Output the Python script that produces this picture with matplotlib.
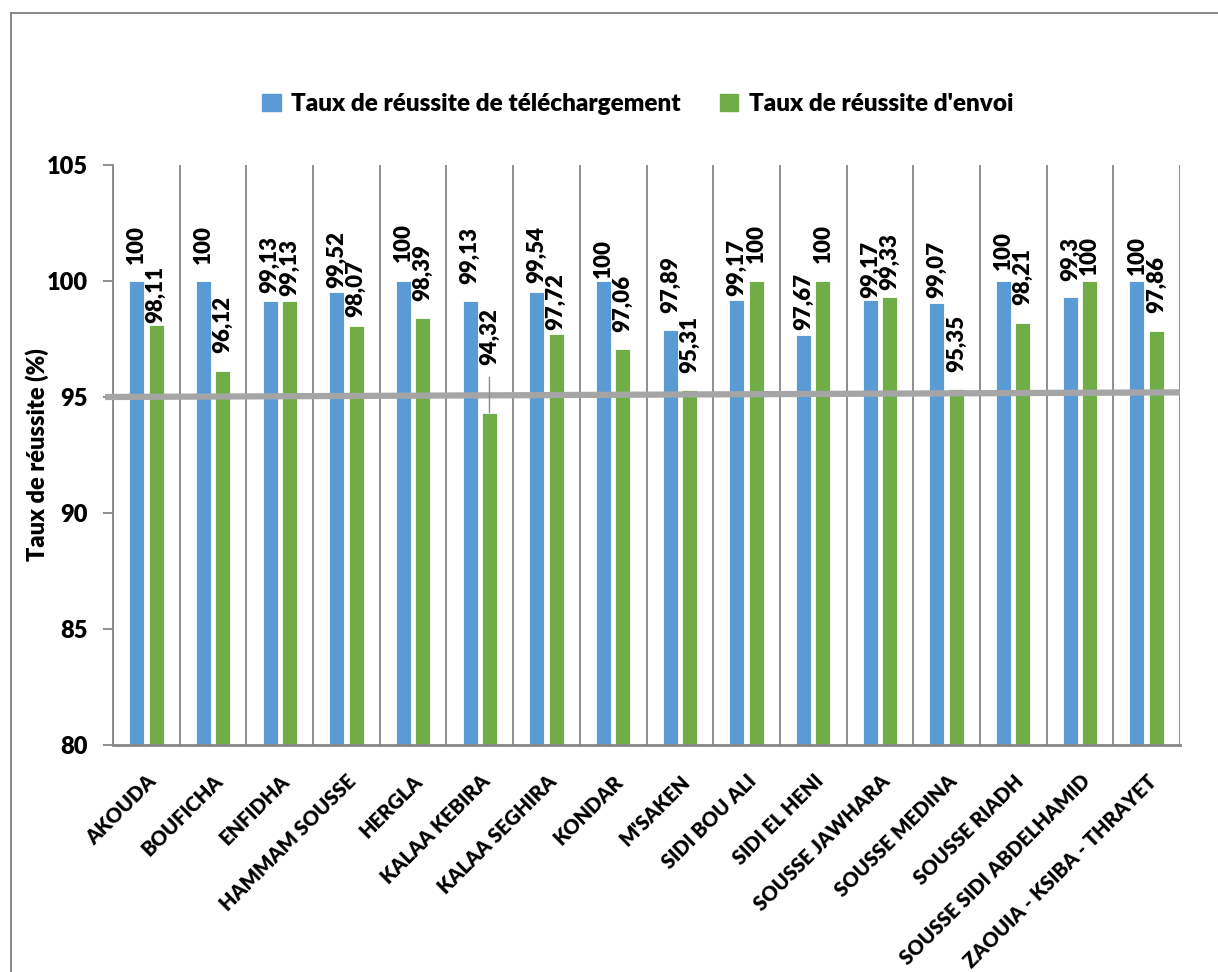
import numpy as np
import matplotlib
matplotlib.use("Agg")
import matplotlib.pyplot as plt
from matplotlib.patches import Patch
from matplotlib.lines import Line2D
from matplotlib.transforms import ScaledTranslation

plt.rcParams['font.family'] = ['Lato', 'DejaVu Sans']
plt.rcParams['font.weight'] = 'bold'

# ---- data ----
communes = ["AKOUDA", "BOUFICHA", "ENFIDHA", "HAMMAM SOUSSE", "HERGLA",
            "KALAA KEBIRA", "KALAA SEGHIRA", "KONDAR", "M'SAKEN",
            "SIDI BOU ALI", "SIDI EL HENI", "SOUSSE JAWHARA", "SOUSSE MEDINA",
            "SOUSSE RIADH", "SOUSSE SIDI ABDELHAMID", "ZAOUIA - KSIBA - THRAYET"]
telechargement = [100, 100, 99.13, 99.52, 100, 99.13, 99.54, 100, 97.89,
                  99.17, 97.67, 99.17, 99.07, 100, 99.3, 100]
envoi = [98.11, 96.12, 99.13, 98.07, 98.39, 94.32, 97.72, 97.06, 95.31,
         100, 100, 99.33, 95.35, 98.21, 100, 97.86]
seuil = [95.0, 95.2]   # grey reference line (left end, right end)

# gap between bar top and its label, in pixels, as placed in the original
gap_tel = [17, 17, 8, 4, 19, 17, 9, 3, 17, 4, 5, 2, 5, 11, 16, 6]
gap_env = [2, 18, 5, 9, 17, 48, 4, 17, 17, 18, 18, 7, 17, 18, 6, 18]

BLUE = "#5B9BD5"
GREEN = "#70AD47"
GRID = "#868686"

W, H = 1218, 972
fig = plt.figure(figsize=(W / 100, H / 100), dpi=100)
ax = fig.add_axes([113 / W, 1 - 745 / H, (1180 - 113) / W, (745 - 165) / H])

x = np.arange(len(communes))
off, bw = 0.145, 0.225
ax.bar(x - off, telechargement, bw, color=BLUE, edgecolor="white", linewidth=0.6, zorder=2)
ax.bar(x + off, envoi, bw, color=GREEN, edgecolor="white", linewidth=0.6, zorder=2)

def fmt(v):
    return f"{v:g}".replace(".", ",")

for i in range(len(communes)):
    ax.annotate(fmt(telechargement[i]), (x[i] - off, telechargement[i]),
                xytext=(0, gap_tel[i]), textcoords="offset pixels",
                rotation=90, ha="center", va="bottom", fontsize=16,
                fontweight="heavy", zorder=4)
    props = None
    if gap_env[i] > 30:
        props = dict(arrowstyle="-", color="#8C8C8C", lw=1,
                     shrinkA=7, shrinkB=0, relpos=(0.5, 0))
    ax.annotate(fmt(envoi[i]), (x[i] + off, envoi[i]),
                xytext=(0, gap_env[i]), textcoords="offset pixels",
                rotation=90, ha="center", va="bottom", fontsize=16,
                fontweight="heavy", zorder=4, arrowprops=props)

# grey threshold line
ax.plot([-0.62, len(communes) - 0.5], seuil, color="#A5A5A5", lw=4.5,
        solid_capstyle="butt", clip_on=False, zorder=3)

ax.set_xlim(-0.5, len(communes) - 0.5)
ax.set_ylim(80, 105)
ax.set_yticks(range(80, 106, 5))

ax.set_xticks(x)
ax.set_xticklabels(communes, rotation=45, ha="right", va="top",
                   rotation_mode="anchor", fontsize=14.5, fontweight="heavy")
shift = ScaledTranslation(5 / 100, 0, fig.dpi_scale_trans)
for lab in ax.get_xticklabels():
    lab.set_transform(lab.get_transform() + shift)
ax.tick_params(axis="x", length=0, pad=19)

ax.set_xticks(np.arange(-0.5, len(communes), 1), minor=True)
ax.tick_params(axis="x", which="minor", length=0)
ax.grid(which="minor", axis="x", color=GRID, lw=1.3, zorder=1)

ax.tick_params(axis="y", length=7, width=1.3, color=GRID, pad=11, labelsize=17)
for lab in ax.get_yticklabels():
    lab.set_fontweight("heavy")
for s in ["top", "right"]:
    ax.spines[s].set_visible(False)
ax.spines["left"].set_color(GRID)
ax.spines["left"].set_linewidth(1.3)
ax.spines["bottom"].set_color(GRID)
ax.spines["bottom"].set_linewidth(2)

fig.text(37 / W, 1 - 455 / H, "Taux de réussite (%)", rotation=90,
         ha="center", va="center", fontsize=17, fontweight="heavy")

handles = [Patch(color=BLUE, label="Taux de réussite de téléchargement"),
           Patch(color=GREEN, label="Taux de réussite d'envoi")]
fig.legend(handles=handles, loc="center", bbox_to_anchor=(638 / W, 1 - 104 / H),
           ncol=2, frameon=False, handlelength=0.75, handleheight=0.75,
           handletextpad=0.45, columnspacing=1.6,
           prop=dict(family=['Lato', 'DejaVu Sans'], weight="heavy", size=17.5))

# chart border (only left and top edges are visible in the frame)
fig.add_artist(Line2D([10.5 / W, 10.5 / W], [0, 1 - 13 / H], color="#7F7F7F", lw=1.3))
fig.add_artist(Line2D([10.5 / W, 1], [1 - 13 / H, 1 - 13 / H], color="#7F7F7F", lw=1.3))

fig.savefig("out.png", dpi=100)
